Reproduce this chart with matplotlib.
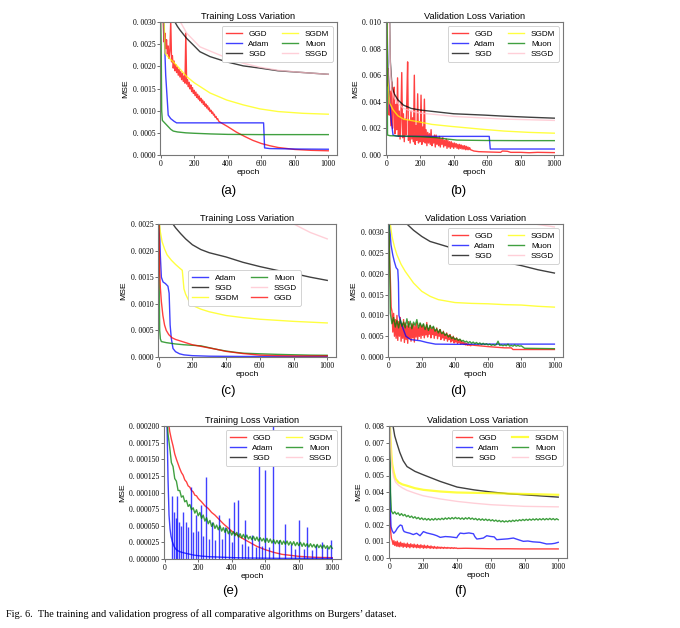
import numpy as np
import matplotlib
matplotlib.use("Agg")
import matplotlib.pyplot as plt
from matplotlib.ticker import FuncFormatter, MultipleLocator

SERIF = "Liberation Serif"
SANS = "Liberation Sans"

colors = {"GGD": "red", "Adam": "blue", "SGD": "black",
          "SGDM": "yellow", "Muon": "green", "SSGD": "pink"}

# ---------------- (a) training loss, values in 1e-4 ----------------
a_ggd_ep = np.concatenate([np.arange(0, 355, 5), [400, 450, 500, 550, 600, 650, 700, 800, 900, 1000]])
a_ggd = [40, 35, 31, 30,
         25.5, 27.5, 24.0, 26.0, 22.8, 24.6, 21.8, 23.5, 30.5, 21.0,
         22.4, 19.6, 21.2, 19.0, 20.4, 18.6, 19.8, 18.0, 19.3, 17.6,
         18.8, 17.0, 18.4, 16.6, 17.8, 16.2, 27.5, 16.0, 17.0, 15.4,
         16.4, 14.9, 15.8, 14.3, 15.2, 13.9, 14.6, 13.4, 14.2, 13.0,
         13.7, 12.6, 13.3, 12.2, 12.8, 11.8, 12.4, 11.4, 12.0, 11.0,
         11.5, 10.6, 11.1, 10.2, 10.6, 9.8, 10.1, 9.4, 9.7, 9.0,
         9.2, 8.5, 8.7, 8.1, 8.2, 7.7, 7.5,
         6.4, 5.2, 4.2, 3.3, 2.6, 2.1, 1.7, 1.25, 1.05, 0.95]
a_adam_ep = [0, 10, 19, 30, 40, 45, 60, 80, 95, 200, 400, 614, 620, 650, 800, 1000]
a_adam = [60, 40, 30, 18, 12, 9.0, 8.2, 7.6, 7.25, 7.25, 7.25, 7.25, 1.6, 1.45, 1.35, 1.3]
a_sgd_ep = [85, 100, 115, 155, 195, 234, 294, 394, 493, 592, 700, 850, 1000]
a_sgd = [30, 29, 28.2, 26.3, 24.8, 23.3, 22.2, 21.0, 20.1, 19.6, 19.0, 18.6, 18.2]
a_sgdm_ep = [20, 26, 40, 60, 75, 110, 155, 200, 294, 394, 493, 592, 700, 850, 1000]
a_sgdm = [31, 23, 22.3, 21.5, 21.0, 19.6, 17.7, 16.3, 14.0, 12.4, 11.3, 10.4, 9.8, 9.4, 9.2]
a_muon_ep = [0, 3, 6, 10, 20, 40, 60, 75, 100, 150, 200, 300, 400, 600, 1000]
a_muon = [31, 25, 10, 7.8, 7.4, 6.6, 5.8, 5.4, 5.2, 5.0, 4.9, 4.75, 4.65, 4.6, 4.6]
a_ssgd_ep = [118, 155, 234, 394, 493, 592, 700, 850, 1000]
a_ssgd = [30, 27.5, 24.4, 21.9, 20.7, 19.8, 19.1, 18.6, 18.2]

# ---------------- (b) validation loss, values in 1e-3 ----------------
b_ggd_ep = np.concatenate([np.arange(0, 505, 5), [520, 550, 600, 680, 690, 720, 740, 800, 850, 900, 1000]])
b_ggd = [9.0, 5.2, 6.5, 3.0, 4.8, 2.2, 5.5, 2.0, 3.4, 5.1,
         1.6, 3.8, 1.9, 5.8, 1.4, 3.3, 1.2, 2.9, 6.2, 1.3,
         3.1, 1.0, 2.7, 1.5, 4.0, 7.0, 1.1, 2.6, 0.9, 3.3,
         1.2, 2.8, 1.0, 6.0, 0.8, 2.2, 1.1, 4.6, 0.9, 2.5,
         1.0, 4.5, 0.8, 2.1, 1.0, 4.2, 0.9, 1.9, 0.7, 1.7,
         0.9, 1.6, 0.8, 1.9, 0.7, 1.4, 0.9, 1.5, 0.6, 1.5,
         0.8, 1.3, 0.7, 1.4, 0.6, 1.2, 0.8, 1.3, 0.6, 1.1,
         0.7, 1.2, 0.5, 1.1, 0.6, 1.0, 0.5, 1.0, 0.6, 0.9,
         0.5, 0.9, 0.6, 0.85, 0.5, 0.8, 0.45, 0.8, 0.5, 0.75,
         0.45, 0.7, 0.45, 0.7, 0.4, 0.65, 0.4, 0.6, 0.4, 0.55,
         0.4,
         0.3, 0.25, 0.23, 0.2, 0.3, 0.28, 0.2, 0.2, 0.17, 0.2, 0.18]
b_adam_ep = [0, 5, 10, 18, 28, 38, 60, 100, 300, 612, 618, 700, 1000]
b_adam = [12, 8, 6, 4, 2.5, 1.5, 1.42, 1.4, 1.4, 1.4, 0.45, 0.45, 0.45]
b_sgd_ep = [10, 18, 22, 32, 45, 67, 100, 147, 200, 286, 400, 583, 700, 850, 1000]
b_sgd = [14, 10, 7, 5.1, 4.6, 4.15, 3.75, 3.5, 3.38, 3.26, 3.1, 3.0, 2.92, 2.84, 2.77]
b_sgdm_ep = [0, 4, 8, 18, 38, 67, 100, 187, 270, 385, 583, 700, 850, 1000]
b_sgdm = [12, 8, 5.5, 3.9, 3.4, 2.95, 2.7, 2.5, 2.3, 2.15, 1.92, 1.8, 1.7, 1.64]
b_muon_ep = [0, 3, 5, 20, 100, 200, 300, 360, 420, 600, 800, 1000]
b_muon = [12, 8, 1.5, 1.45, 1.42, 1.38, 1.3, 1.2, 1.12, 1.09, 1.08, 1.08]
b_ssgd_ep = [10, 18, 22, 32, 45, 67, 100, 147, 200, 286, 400, 583, 700, 850, 1000]
b_ssgd = [13, 9.5, 6.6, 4.8, 4.3, 3.9, 3.5, 3.3, 3.15, 3.05, 2.9, 2.78, 2.7, 2.65, 2.6]

# ---------------- (c) training loss, values in 1e-4 ----------------
c_adam_ep = [0, 5, 10, 16, 26, 40, 55, 62, 68, 75, 85, 100, 124, 150, 200, 300, 500, 1000]
c_adam = [30, 24, 19, 15, 14.1, 13.8, 13.3, 12, 6, 3.5, 1.6, 1.0, 0.6, 0.4, 0.25, 0.15, 0.1, 0.1]
c_sgd_ep = [80, 100, 130, 160, 200, 250, 300, 400, 500, 600, 700, 800, 900, 1000]
c_sgd = [25.2, 24.3, 23.2, 22.2, 21.1, 20.2, 19.6, 18.8, 17.8, 17.0, 16.3, 15.7, 15.0, 14.4]
c_sgdm_ep = [0, 5, 10, 20, 35, 50, 75, 100, 125, 140, 150, 160, 180, 200, 250, 300, 400, 500, 600, 800, 1000]
c_sgdm = [30, 25, 23.5, 21.7, 20.3, 19.2, 18.2, 17.4, 16.7, 16.3, 12.8, 11.8, 10.5, 9.7, 9.0, 8.5, 7.8, 7.4, 7.1, 6.7, 6.4]
c_muon_ep = [0, 3, 6, 10, 16, 45, 100, 150, 200, 250, 300, 350, 400, 450, 500, 600, 700, 800, 900, 1000]
c_muon = [30, 14, 5, 3.4, 2.9, 2.7, 2.45, 2.3, 2.2, 2.1, 1.75, 1.4, 1.12, 0.9, 0.72, 0.6, 0.5, 0.42, 0.35, 0.32]
c_ssgd_ep = [300, 500, 700, 790, 850, 900, 950, 1000]
c_ssgd = [40, 32, 27, 25.2, 24.2, 23.4, 22.8, 22.2]
c_ggd_ep = [0, 3, 6, 10, 16, 25, 35, 45, 60, 80, 100, 150, 200, 250, 300, 350, 400, 450, 500, 600, 700, 800, 1000]
c_ggd = [30, 22, 16, 13, 10.4, 7.8, 6.0, 5.0, 4.2, 3.6, 3.3, 2.8, 2.3, 2.0, 1.7, 1.4, 1.05, 0.85, 0.65, 0.35, 0.25, 0.2, 0.2]

# ---------------- (d) validation loss, values in 1e-4 ----------------
d_ggd_ep = np.concatenate([np.arange(0, 505, 5), [520, 600, 700, 740, 750, 1000]])
d_ggd = [40, 24, 19, 12, 11, 6, 10.5, 5, 9, 4.5,
         10, 4, 8.5, 5, 9.5, 3.8, 8, 4.5, 9, 3.5,
         8.2, 4.2, 7.5, 3.3, 8.5, 4.5, 7.2, 3.8, 8, 4.6,
         7.8, 3.6, 7.4, 4.8, 8.2, 4.2, 7.0, 5.0, 8.0, 4.5,
         7.4, 5.2, 7.8, 4.6, 7.0, 5.3, 8.3, 4.8, 6.8, 5.5,
         7.6, 4.6, 6.6, 5.4, 7.2, 4.5, 6.5, 5.2, 7.0, 4.4,
         6.2, 5.0, 6.6, 4.2, 5.8, 4.6, 6.2, 4.0, 5.5, 4.4,
         5.8, 3.8, 5.2, 4.2, 5.4, 3.6, 4.8, 3.9, 5.0, 3.4,
         4.4, 3.6, 4.6, 3.3, 4.1, 3.4, 4.2, 3.1, 3.8, 3.2,
         3.6, 3.0, 3.4, 2.9, 3.3, 2.8, 3.1, 2.8, 3.0, 2.7,
         2.9,
         2.8, 2.5, 2.2, 2.2, 1.8, 1.8]
d_adam_ep = [0, 5, 14, 25, 34, 45, 55, 59, 62, 75, 90, 104, 132, 191, 230, 282, 400, 600, 800, 1000]
d_adam = [40, 32, 27, 24.5, 23, 21.5, 21, 18, 10, 8.2, 6.5, 5.0, 4.2, 3.9, 3.5, 3.1, 3.05, 3.1, 3.1, 3.1]
d_sgd_ep = [50, 110, 150, 200, 250, 300, 400, 500, 600, 700, 800, 900, 1000]
d_sgd = [40, 32, 30.5, 29, 27.8, 27.2, 26.0, 25.0, 23.8, 22.8, 22.0, 21.0, 20.2]
d_sgdm_ep = [0, 5, 10, 20, 35, 50, 75, 100, 150, 200, 250, 300, 400, 500, 600, 700, 800, 900, 1000]
d_sgdm = [40, 35, 32, 29, 26.5, 24.6, 22.3, 20.6, 17.8, 15.8, 14.6, 13.8, 13.1, 12.9, 12.8, 12.6, 12.5, 12.2, 12.0]
d_muon_ep = np.concatenate([np.arange(0, 810, 10), [820, 1000]])
d_muon = [40, 10.5, 8.0, 9.5, 7.2, 8.8, 7.0, 9.0, 7.4, 8.4,
          7.0, 9.2, 7.2, 8.6, 6.8, 8.4, 7.6, 9.0, 7.0, 8.2,
          7.2, 8.0, 6.6, 7.8, 6.4, 7.6, 6.8, 7.4, 6.2, 6.8,
          5.8, 6.6, 5.6, 6.0, 5.2, 5.6, 4.8, 5.2, 4.4, 4.8,
          4.2, 4.5, 4.0, 4.3, 3.8, 4.0, 3.6, 3.8, 3.4, 3.7,
          3.3, 3.6, 3.2, 3.5, 3.1, 3.4, 3.0, 3.3, 3.0, 3.2,
          2.9, 3.1, 2.8, 3.0, 2.8, 3.0, 3.8, 2.8, 2.9, 2.7,
          2.9, 2.7, 3.1, 2.6, 2.8, 2.6, 2.9, 2.6, 2.8, 2.6,
          2.7,
          2.1, 2.0]
d_ssgd_ep = [0, 500, 880, 1000]
d_ssgd = [60, 40, 32, 31.3]

# ---------------- (e) training loss, values in 1e-6 ----------------
e_ggd_ep = [20, 26, 30, 40, 50, 60, 70, 80, 90, 100, 110, 120, 130, 140, 150, 160, 170, 180, 190, 200,
            220, 240, 260, 280, 300, 350, 400, 450, 500, 550, 600, 650, 700, 800, 900, 1000]
e_ggd = [230, 200, 192, 180, 170, 158, 150, 143, 136, 130, 126, 119, 116, 110, 108, 103, 101, 96, 95, 91,
         86, 80, 76, 70, 66, 53, 42, 33, 26, 19, 14, 10, 7, 4, 2.5, 2]
e_adam_ep = [5, 10, 15, 20, 26, 32, 38, 46, 56, 66, 75, 90, 110, 135, 170, 215, 260, 314, 360, 413,
             500, 612, 700, 800, 900, 1000]
e_adam = [260, 230, 190, 120, 66, 45, 34, 26, 19, 15, 13, 11, 9.5, 8, 6, 4.5, 3.5, 3, 2.5, 2,
          1.5, 1.2, 1, 1, 0.8, 0.8]
e_adam_spike_ep = [45, 55, 65, 75, 88, 100, 109, 125, 140, 155, 170, 185, 200, 215, 230, 247, 265, 284,
                   300, 324, 345, 360, 384, 400, 413, 439, 460, 479, 500, 523, 545, 563, 580, 598, 620,
                   644, 682, 716, 751, 780, 803, 830, 851, 880, 901, 940, 970, 990]
e_adam_spike = [95, 70, 62, 94, 55, 50, 71, 56, 48, 108, 40, 66, 42, 81, 35, 124, 30, 56,
                28, 66, 30, 48, 61, 25, 86, 88, 22, 58, 20, 36, 18, 144, 20, 134, 18,
                210, 28, 53, 23, 15, 58, 15, 48, 14, 21, 26, 18, 28]
e_sgd_ep = [0, 500, 1000]
e_sgd = [5000, 1500, 1000]
e_sgdm_ep = [0, 500, 1000]
e_sgdm = [4000, 800, 500]
e_muon_ep = np.arange(10, 1010, 10)
e_muon = [230, 188, 168, 145, 139, 121, 117, 103, 103, 93,
          95, 86, 88, 79, 82, 74, 77, 69, 74, 65,
          70, 61, 66, 57, 62, 53, 58, 49, 54, 46,
          51, 44, 50, 42, 47, 40, 46, 38, 43, 36,
          41, 35, 40, 33, 38, 32, 37, 31, 36, 30,
          34, 29, 34, 28, 33, 27, 32, 27, 31, 25,
          31, 25, 30, 24, 29, 23, 28, 23, 28, 22,
          27, 22, 27, 21, 26, 21, 26, 20, 25, 20,
          25, 19, 24, 19, 23, 18, 23, 18, 22, 17,
          22, 17, 21, 16, 21, 16, 20, 15, 20, 16]
e_ssgd_ep = [0, 500, 1000]
e_ssgd = [6000, 2500, 1800]

# ---------------- (f) validation loss, values in 1e-4 ----------------
f_ggd_ep = np.concatenate([np.arange(0, 405, 5), [450, 500, 600, 700, 800, 900, 1000]])
f_ggd = [30, 17, 12, 10.5, 8.2, 10.5, 7.6, 9.8, 7.2, 10.2,
         7.0, 9.2, 6.8, 9.6, 7.2, 8.8, 6.5, 9.0, 7.0, 8.4,
         6.4, 9.0, 6.8, 8.2, 6.2, 8.6, 6.9, 8.0, 6.3, 8.4,
         6.6, 7.8, 6.2, 8.2, 6.4, 7.6, 6.0, 8.0, 6.5, 7.4,
         5.9, 7.8, 6.2, 7.2, 6.0, 7.6, 6.3, 7.0, 5.8, 7.3,
         6.1, 6.8, 5.8, 7.0, 6.0, 6.6, 5.7, 6.8, 6.0, 6.5,
         5.8, 6.6, 6.0, 6.4, 5.8, 6.5, 6.0, 6.3, 5.8, 6.4,
         6.0, 6.2, 5.8, 6.3, 5.9, 6.2, 5.8, 6.2, 5.9, 6.1,
         5.8,
         5.9, 5.8, 5.6, 5.6, 5.5, 5.5, 5.5]
f_adam_ep = [0, 4, 8, 15, 24, 35, 45, 53, 63, 73, 80, 86, 100, 120, 140, 160, 180, 200, 220, 240,
             260, 280, 300, 330, 360, 398, 405, 418, 440, 470, 497, 505, 517, 540, 556, 576, 596, 620,
             635, 660, 700, 734, 760, 793, 820, 850, 892, 931, 960, 980, 1000]
f_adam = [85, 30, 19, 16.5, 15, 16.2, 18, 19, 20, 19.6, 17, 16, 15.5, 15, 14.2, 15, 13.5, 16, 15.2, 14.7,
          14.2, 13.5, 12.5, 13, 12.8, 12.3, 13.5, 15.1, 14.8, 15.2, 14.7, 13, 11.5, 11.8, 12.1, 13.5, 13.1, 12.8,
          11.1, 11.3, 11.6, 12.1, 11.2, 10.1, 10.3, 9.8, 9.5, 8.5, 8.6, 8.9, 9.5]
f_sgd_ep = [12, 20, 30, 43, 60, 80, 103, 150, 200, 300, 400, 500, 600, 700, 800, 900, 1000]
f_sgd = [90, 80, 74, 69.5, 64, 59, 55.4, 52.5, 50.4, 46.4, 43.0, 41.3, 40.0, 39.0, 38.3, 37.6, 36.9]
f_sgdm_ep = [0, 5, 10, 15, 24, 35, 53, 75, 103, 150, 201, 300, 398, 596, 800, 1000]
f_sgdm = [85, 72, 63, 57, 52, 48, 45.8, 44.6, 43.8, 42.3, 41.3, 40.3, 39.7, 39.3, 38.8, 38.3]
f_muon_ep = np.concatenate([[0, 5], np.arange(10, 1010, 10)])
f_muon = [85, 40,
          28.5, 26.8, 28.0, 26.5, 27.4, 25.8, 26.9, 25.6, 26.4, 25.0,
          25.8, 24.6, 25.4, 24.2, 25.0, 23.8, 24.6, 23.4, 24.3, 23.2,
          24.0, 23.0, 23.9, 22.9, 23.8, 23.0, 24.0, 23.1, 23.9, 23.2,
          24.1, 23.3, 24.3, 23.5, 24.4, 23.6, 24.5, 23.7, 24.6, 23.8,
          24.4, 23.5, 24.3, 23.4, 24.4, 23.6, 24.5, 23.5, 24.2, 23.3,
          24.0, 23.0, 23.8, 22.9, 23.7, 22.8, 23.6, 22.7, 23.4, 22.5,
          23.2, 22.3, 23.0, 22.1, 22.8, 21.9, 22.6, 21.8, 22.5, 21.9,
          22.7, 22.0, 22.9, 22.2, 23.0, 22.4, 23.2, 22.6, 23.4, 22.7,
          23.5, 22.8, 23.6, 22.9, 23.7, 23.0, 23.8, 23.0, 23.8, 23.1,
          23.9, 23.1, 23.9, 23.2, 24.0, 23.2, 23.9, 23.1, 23.8, 23.2]
f_ssgd_ep = [0, 5, 10, 15, 24, 35, 53, 75, 103, 150, 199, 300, 400, 500, 600, 800, 1000]
f_ssgd = [85, 70, 60, 54, 49, 46, 44, 42.5, 41, 39.3, 37.7, 35.8, 34.3, 33.2, 32.3, 31.3, 31.0]

titles = ["Training Loss Variation", "Validation Loss Variation"]
captions = ["(a)", "(b)", "(c)", "(d)", "(e)", "(f)"]


def fmt(dec):
    return FuncFormatter(lambda v, p: ("%.*f" % (dec, v)).replace(".", ". "))


def setup(ax, title, ytop, ystep, dec):
    ax.set_xlim(-4, 1052)
    ax.set_ylim(0, ytop)
    ax.xaxis.set_major_locator(MultipleLocator(200))
    ax.yaxis.set_major_locator(MultipleLocator(ystep))
    ax.yaxis.set_major_formatter(fmt(dec))
    ax.xaxis.set_major_formatter(FuncFormatter(lambda v, p: "%d" % v))
    for s in ax.spines.values():
        s.set_color("#777777")
        s.set_linewidth(0.8)
    ax.tick_params(length=2, width=0.6, color="#555555", pad=1.5)
    for lab in ax.get_xticklabels() + ax.get_yticklabels():
        lab.set_fontfamily(SERIF)
        lab.set_fontsize(5.5)
    ax.set_title(title, fontsize=6.7, family=SANS, pad=2.5)
    ax.set_xlabel("epoch", fontsize=6.1, family=SANS, labelpad=0.5)
    ax.set_ylabel("MSE", fontsize=6.1, family=SANS, labelpad=2)


def draw(ax, series, unit, lw=1.0):
    for name, ep, val in series:
        ax.plot(ep, np.asarray(val) * unit, color=colors[name], lw=lw, alpha=0.75, label=name)


def legend(ax, **kw):
    leg = ax.legend(ncol=2, frameon=True, fancybox=True, framealpha=1,
                    edgecolor="#cccccc", borderpad=0.45, labelspacing=0.3, columnspacing=1.5,
                    handlelength=2.0, handletextpad=0.8, prop={"family": SANS, "size": 5.9}, **kw)
    leg.get_frame().set_linewidth(0.6)


fig = plt.figure(figsize=(6.8, 6.28), dpi=100)
W, H = 680, 628
rects = [(160, 22, 337, 155), (386, 22, 563, 155),
         (158, 224, 336, 357), (388, 224, 563, 357),
         (164, 426, 341, 559), (389, 426, 567, 558)]
axes = [fig.add_axes([l / W, 1 - b / H, (r - l) / W, (b - t) / H]) for (l, t, r, b) in rects]

ax = axes[0]
draw(ax, [("GGD", a_ggd_ep, a_ggd), ("Adam", a_adam_ep, a_adam), ("SGD", a_sgd_ep, a_sgd),
          ("SGDM", a_sgdm_ep, a_sgdm), ("Muon", a_muon_ep, a_muon), ("SSGD", a_ssgd_ep, a_ssgd)], 1e-4)
setup(ax, titles[0], 0.003, 0.0005, 4)
legend(ax, loc="upper right")

ax = axes[1]
draw(ax, [("GGD", b_ggd_ep, b_ggd), ("Adam", b_adam_ep, b_adam), ("SGD", b_sgd_ep, b_sgd),
          ("SGDM", b_sgdm_ep, b_sgdm), ("Muon", b_muon_ep, b_muon), ("SSGD", b_ssgd_ep, b_ssgd)], 1e-3)
setup(ax, titles[1], 0.010, 0.002, 3)
legend(ax, loc="upper right")

ax = axes[2]
draw(ax, [("Adam", c_adam_ep, c_adam), ("SGD", c_sgd_ep, c_sgd), ("SGDM", c_sgdm_ep, c_sgdm),
          ("Muon", c_muon_ep, c_muon), ("SSGD", c_ssgd_ep, c_ssgd), ("GGD", c_ggd_ep, c_ggd)], 1e-4)
setup(ax, titles[0], 0.0025, 0.0005, 4)
legend(ax, loc="center", bbox_to_anchor=(0.485, 0.52))

ax = axes[3]
draw(ax, [("GGD", d_ggd_ep, d_ggd), ("Adam", d_adam_ep, d_adam), ("SGD", d_sgd_ep, d_sgd),
          ("SGDM", d_sgdm_ep, d_sgdm), ("Muon", d_muon_ep, d_muon), ("SSGD", d_ssgd_ep, d_ssgd)], 1e-4)
setup(ax, titles[1], 0.0032, 0.0005, 4)
legend(ax, loc="upper right")

ax = axes[4]
draw(ax, [("GGD", e_ggd_ep, e_ggd), ("Adam", e_adam_ep, e_adam)], 1e-6)
ax.vlines(e_adam_spike_ep, 0, np.asarray(e_adam_spike) * 1e-6, color=colors["Adam"], lw=1.0, alpha=0.75)
draw(ax, [("SGD", e_sgd_ep, e_sgd), ("SGDM", e_sgdm_ep, e_sgdm), ("Muon", e_muon_ep, e_muon),
          ("SSGD", e_ssgd_ep, e_ssgd)], 1e-6)
setup(ax, titles[0], 0.0002, 0.000025, 6)
legend(ax, loc="upper right")

ax = axes[5]
draw(ax, [("GGD", f_ggd_ep, f_ggd), ("Adam", f_adam_ep, f_adam), ("SGD", f_sgd_ep, f_sgd)], 1e-4)
draw(ax, [("SGDM", f_sgdm_ep, f_sgdm)], 1e-4, lw=1.6)
draw(ax, [("Muon", f_muon_ep, f_muon), ("SSGD", f_ssgd_ep, f_ssgd)], 1e-4)
setup(ax, titles[1], 0.008, 0.001, 3)
legend(ax, loc="upper right")

cap_pos = [(228, 191), (458, 191), (228, 391), (458, 391), (230, 591), (460, 591)]
for txt, (x, y) in zip(captions, cap_pos):
    fig.text(x / W, 1 - y / H, txt, ha="center", va="center", fontsize=9.5, family=SANS)

fig.text(6 / W, 1 - 614 / H,
         "Fig. 6.  The training and validation progress of all comparative algorithms on Burgers\u2019 dataset.",
         ha="left", va="center", fontsize=7.4, family=SERIF)

fig.savefig("out.png", dpi=100)
